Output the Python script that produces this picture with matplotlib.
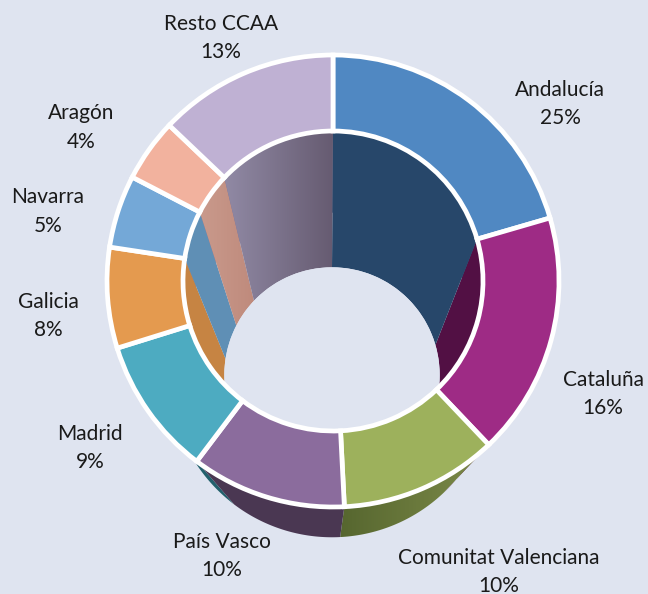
import numpy as np
import matplotlib
matplotlib.use("Agg")
import matplotlib.pyplot as plt
from matplotlib.patches import Polygon, Circle
from matplotlib.colors import to_rgb

# ---------------- data ----------------
regions = ["Andalucía", "Cataluña", "Comunitat Valenciana", "País Vasco", "Madrid",
           "Galicia", "Navarra", "Aragón", "Resto CCAA"]
# angular share of each slice as drawn in the picture (%)
shares = [20.5, 17.4, 11.3, 11.1, 9.9, 7.2, 5.2, 4.5, 12.9]
# percentage printed in the labels
pct_labels = ["25%", "16%", "10%", "10%", "9%", "8%", "5%", "4%", "13%"]

top_colors = ["#5088c2", "#9e2b85", "#9db15c", "#8b6c9d", "#4dabc1",
              "#e49a4f", "#74a8d7", "#f2b29e", "#bfb1d3"]
inner_wall = [("#27476a", "#27476a"), ("#521044", "#521044"), ("#6b7a3a", "#6b7a3a"),
              ("#4a3752", "#4a3752"), ("#2c6c7a", "#2c6c7a"), ("#c68443", "#c68443"),
              ("#5f8fb5", "#5f8fb5"), ("#c99a8c", "#bf8a7c"), ("#918aa5", "#665b71")]
outer_wall = [("#3b5f88", "#3b5f88"), ("#6e1c5c", "#6e1c5c"), ("#56662f", "#7d8b49"),
              ("#4a3752", "#4a3752"), ("#22606c", "#22606c"), ("#a86c30", "#a86c30"),
              ("#4f7fa6", "#4f7fa6"), ("#b98373", "#b98373"), ("#7e7196", "#7e7196")]

BG = "#dfe4f0"
W, H = 648, 594

# geometry (pixel coords, y up)
cx_t, cy_t, R_t, r_t = 333, H - 281, 226, 150
cx_b, cy_b, s_b = 332, H - 375, 0.718
R_b, r_b = R_t * s_b, r_t * s_b

# label positions (image coords -> y up later)
label_pos = {
    "Andalucía": (560, 90), "Cataluña": (603, 380), "Comunitat Valenciana": (499, 558),
    "País Vasco": (222, 542), "Madrid": (90, 434), "Galicia": (48, 302),
    "Navarra": (48, 197), "Aragón": (81, 113), "Resto CCAA": (221, 24),
}

fig = plt.figure(figsize=(W / 100, H / 100), dpi=100, facecolor=BG)
ax = fig.add_axes([0, 0, 1, 1])
ax.set_facecolor(BG)

vals = np.array(shares, dtype=float)
fr = vals / vals.sum()
bounds = 90 - 360 * np.concatenate([[0], np.cumsum(fr)])  # clockwise from top


def arc(cx, cy, r, a1, a2, n=60):
    t = np.radians(np.linspace(a1, a2, n))
    return np.column_stack([cx + r * np.cos(t), cy + r * np.sin(t)])


def shaded_poly(verts, c1, c2, z):
    patch = Polygon(verts, closed=True, facecolor=c1, edgecolor="none", zorder=z)
    ax.add_patch(patch)
    if c1 != c2:
        patch.set_facecolor("none")
        x0, x1 = verts[:, 0].min(), verts[:, 0].max()
        y0, y1 = verts[:, 1].min(), verts[:, 1].max()
        a, b = np.array(to_rgb(c1)), np.array(to_rgb(c2))
        g = np.linspace(0, 1, 256)[None, :, None]
        img = a[None, None, :] * (1 - g) + b[None, None, :] * g
        im = ax.imshow(img, extent=(x0, x1, y0, y1), origin="lower",
                       aspect="auto", zorder=z, interpolation="bilinear")
        im.set_clip_path(patch)


mids = [(bounds[i] + bounds[i + 1]) / 2 for i in range(len(vals))]

# outer walls: back first, front last
for i in sorted(range(len(vals)), key=lambda k: -np.sin(np.radians(mids[k]))):
    a1, a2 = bounds[i], bounds[i + 1]
    top = arc(cx_t, cy_t, R_t, a1, a2)
    bot = arc(cx_b, cy_b, R_b, a2, a1)
    shaded_poly(np.vstack([top, bot]), *outer_wall[i], z=1)

# inner walls: front first, back last
for i in sorted(range(len(vals)), key=lambda k: np.sin(np.radians(mids[k]))):
    a1, a2 = bounds[i], bounds[i + 1]
    top = arc(cx_t, cy_t, r_t, a1, a2)
    bot = arc(cx_b, cy_b, r_b, a2, a1)
    shaded_poly(np.vstack([top, bot]), *inner_wall[i], z=2)

# the hole seen through the ring
ax.add_patch(Circle((cx_b, cy_b), r_b, facecolor=BG, edgecolor="none", zorder=3))

# top face of the ring
wedges, _ = ax.pie(vals, colors=top_colors, startangle=90, counterclock=False,
                   radius=R_t, center=(cx_t, cy_t), frame=True,
                   wedgeprops=dict(width=R_t - r_t, edgecolor="white", linewidth=3.4))
for w in wedges:
    w.set_zorder(5)

# labels
for name, pct in zip(regions, pct_labels):
    x, y = label_pos[name]
    ax.text(x, H - y, name, ha="center", va="center", fontsize=15,
            family="Lato", color="#1a1a1a", zorder=6)
    ax.text(x, H - y - 28.5, pct, ha="center", va="center", fontsize=15,
            family="Lato", color="#1a1a1a", zorder=6)

ax.set_xlim(0, W)
ax.set_ylim(0, H)
ax.set_aspect("equal")
ax.axis("off")
fig.savefig("out.png", dpi=100, facecolor=BG)
